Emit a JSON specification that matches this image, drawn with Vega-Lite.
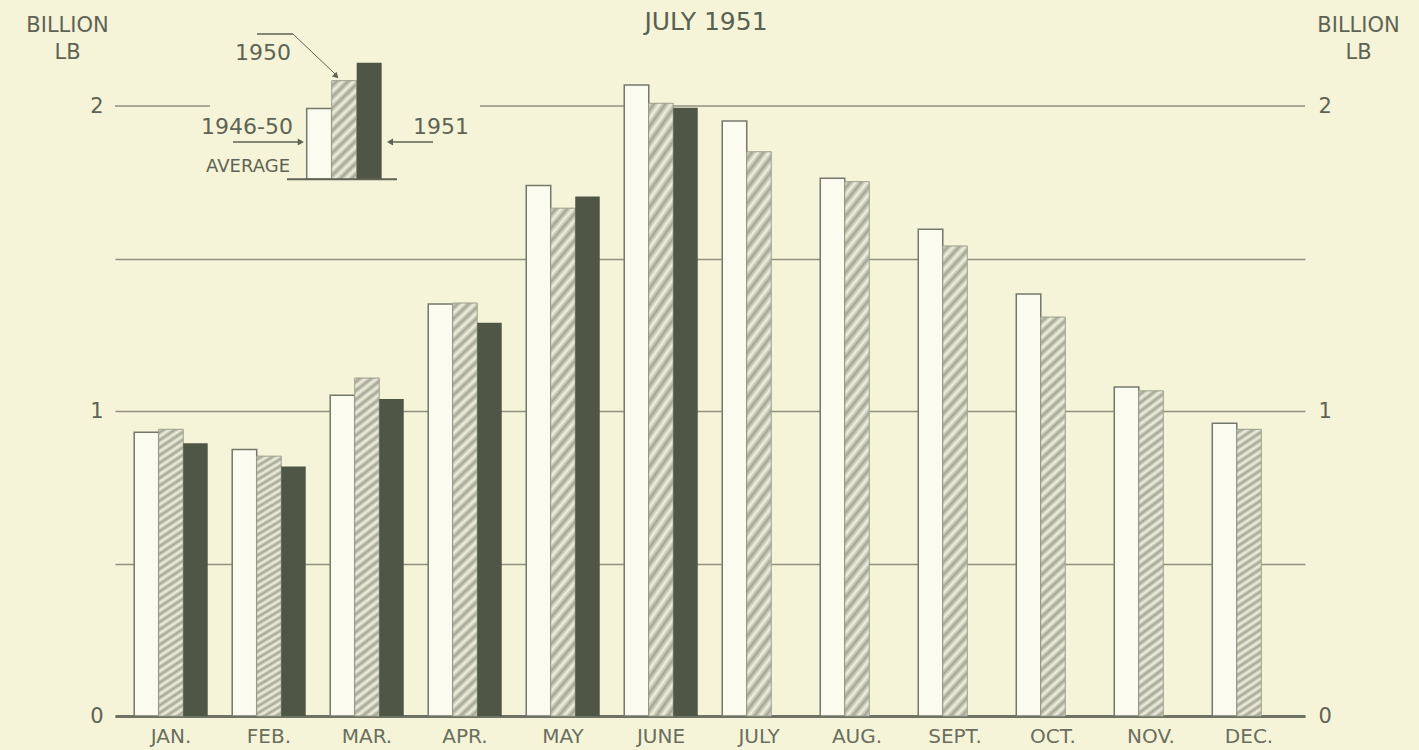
{
  "$schema": "https://vega.github.io/schema/vega-lite/v6.json",
  "width": 1190,
  "height": 671,
  "autosize": {"type": "none"},
  "padding": {"left": 115, "top": 45, "right": 114, "bottom": 34},
  "background": "#f6f4d8",
  "config": {"view": {"stroke": null}, "font": "DejaVu Sans"},
  "datasets": {
    "production": [
      {"month": "JAN.", "series": "1946-50 average", "value": 0.93},
      {"month": "JAN.", "series": "1950", "value": 0.94},
      {"month": "JAN.", "series": "1951", "value": 0.894},
      {"month": "FEB.", "series": "1946-50 average", "value": 0.874},
      {"month": "FEB.", "series": "1950", "value": 0.852},
      {"month": "FEB.", "series": "1951", "value": 0.818},
      {"month": "MAR.", "series": "1946-50 average", "value": 1.052},
      {"month": "MAR.", "series": "1950", "value": 1.108},
      {"month": "MAR.", "series": "1951", "value": 1.039},
      {"month": "APR.", "series": "1946-50 average", "value": 1.351},
      {"month": "APR.", "series": "1950", "value": 1.354},
      {"month": "APR.", "series": "1951", "value": 1.289},
      {"month": "MAY", "series": "1946-50 average", "value": 1.739},
      {"month": "MAY", "series": "1950", "value": 1.665},
      {"month": "MAY", "series": "1951", "value": 1.703},
      {"month": "JUNE", "series": "1946-50 average", "value": 2.069},
      {"month": "JUNE", "series": "1950", "value": 2.009},
      {"month": "JUNE", "series": "1951", "value": 1.994},
      {"month": "JULY", "series": "1946-50 average", "value": 1.951},
      {"month": "JULY", "series": "1950", "value": 1.85},
      {"month": "AUG.", "series": "1946-50 average", "value": 1.763},
      {"month": "AUG.", "series": "1950", "value": 1.752},
      {"month": "SEPT.", "series": "1946-50 average", "value": 1.596},
      {"month": "SEPT.", "series": "1950", "value": 1.541},
      {"month": "OCT.", "series": "1946-50 average", "value": 1.384},
      {"month": "OCT.", "series": "1950", "value": 1.308},
      {"month": "NOV.", "series": "1946-50 average", "value": 1.079},
      {"month": "NOV.", "series": "1950", "value": 1.066},
      {"month": "DEC.", "series": "1946-50 average", "value": 0.96},
      {"month": "DEC.", "series": "1950", "value": 0.94}
    ],
    "legend": [
      {"series": "1946-50 average", "lo": 1.76, "hi": 1.992},
      {"series": "1950", "lo": 1.76, "hi": 2.083},
      {"series": "1951", "lo": 1.76, "hi": 2.142}
    ]
  },
  "resolve": {"scale": {"x": "independent"}, "axis": {"y": "independent"}},
  "layer": [
    {
      "data": {"values": [{"v": 2}]},
      "mark": {"type": "rule", "color": "#8e9180", "strokeWidth": 1.5},
      "encoding": {
        "x": {"datum": -0.196, "type": "quantitative", "scale": {"domain": [-0.196, 11.946], "nice": false, "zero": false}, "axis": null},
        "x2": {"datum": 0.773},
        "y": {"field": "v", "type": "quantitative", "scale": {"domain": [0, 2.2], "nice": false}, "axis": null}
      }
    },
    {
      "data": {"values": [{"v": 2}]},
      "mark": {"type": "rule", "color": "#8e9180", "strokeWidth": 1.5},
      "encoding": {
        "x": {"datum": 3.528, "type": "quantitative", "scale": {"domain": [-0.196, 11.946], "nice": false, "zero": false}, "axis": null},
        "x2": {"datum": 11.946},
        "y": {"field": "v", "type": "quantitative", "scale": {"domain": [0, 2.2], "nice": false}, "axis": null}
      }
    },
    {
      "data": {"name": "production"},
      "transform": [{"filter": "datum.series == '1946-50 average'"}],
      "mark": {"type": "bar", "fill": "#fbfbf0", "stroke": "#74786a", "strokeWidth": 1.5},
      "encoding": {
        "x": {"field": "month", "type": "nominal", "sort": null, "title": null,
          "scale": {"domain": ["JAN.", "FEB.", "MAR.", "APR.", "MAY", "JUNE", "JULY", "AUG.", "SEPT.", "OCT.", "NOV.", "DEC."], "paddingInner": 0.25, "paddingOuter": 0.196},
          "axis": {"domain": true, "domainColor": "#6e7262", "domainWidth": 3, "ticks": false, "labelFontSize": 20, "labelColor": "#6a6e5e", "labelPadding": 10, "labelAngle": 0, "title": null, "grid": false}},
        "xOffset": {"field": "series", "type": "nominal", "scale": {"domain": ["1946-50 average", "1950", "1951"], "paddingInner": 0, "paddingOuter": 0}},
        "y": {"field": "value", "type": "quantitative", "scale": {"domain": [0, 2.2], "nice": false},
          "axis": {"orient": "left", "values": [0, 0.5, 1, 1.5, 2], "labelExpr": "datum.value % 1 == 0 ? format(datum.value, 'd') : ''", "grid": true, "gridColor": "#8e9180", "gridWidth": 1.5, "gridOpacity": {"condition": {"test": "datum.value == 2", "value": 0}, "value": 1}, "domain": false, "ticks": false, "labelPadding": 12, "labelFontSize": 21, "labelColor": "#5e6353", "title": ["BILLION", "LB"], "titleAngle": 0, "titleX": -48, "titleY": -31, "titleAlign": "center", "titleBaseline": "top", "titleFontSize": 21, "titleFontWeight": "normal", "titleColor": "#5e6353", "titleLineHeight": 27}}
      }
    },
    {
      "data": {"name": "production"},
      "transform": [{"filter": "datum.series == '1950'"}],
      "mark": {"type": "bar", "stroke": "#9c9e8d", "strokeWidth": 1,
        "fill": {"gradient": "linear", "x1": 0, "y1": 0, "x2": 0.06, "y2": 1.054, "stops": [
          {"offset": 0, "color": "#f2f1df"}, {"offset": 0.0125, "color": "#a3a594"}, {"offset": 0.025, "color": "#f2f1df"}, {"offset": 0.0375, "color": "#a3a594"},
          {"offset": 0.05, "color": "#f2f1df"}, {"offset": 0.0625, "color": "#a3a594"}, {"offset": 0.075, "color": "#f2f1df"}, {"offset": 0.0875, "color": "#a3a594"},
          {"offset": 0.1, "color": "#f2f1df"}, {"offset": 0.1125, "color": "#a3a594"}, {"offset": 0.125, "color": "#f2f1df"}, {"offset": 0.1375, "color": "#a3a594"},
          {"offset": 0.15, "color": "#f2f1df"}, {"offset": 0.1625, "color": "#a3a594"}, {"offset": 0.175, "color": "#f2f1df"}, {"offset": 0.1875, "color": "#a3a594"},
          {"offset": 0.2, "color": "#f2f1df"}, {"offset": 0.2125, "color": "#a3a594"}, {"offset": 0.225, "color": "#f2f1df"}, {"offset": 0.2375, "color": "#a3a594"},
          {"offset": 0.25, "color": "#f2f1df"}, {"offset": 0.2625, "color": "#a3a594"}, {"offset": 0.275, "color": "#f2f1df"}, {"offset": 0.2875, "color": "#a3a594"},
          {"offset": 0.3, "color": "#f2f1df"}, {"offset": 0.3125, "color": "#a3a594"}, {"offset": 0.325, "color": "#f2f1df"}, {"offset": 0.3375, "color": "#a3a594"},
          {"offset": 0.35, "color": "#f2f1df"}, {"offset": 0.3625, "color": "#a3a594"}, {"offset": 0.375, "color": "#f2f1df"}, {"offset": 0.3875, "color": "#a3a594"},
          {"offset": 0.4, "color": "#f2f1df"}, {"offset": 0.4125, "color": "#a3a594"}, {"offset": 0.425, "color": "#f2f1df"}, {"offset": 0.4375, "color": "#a3a594"},
          {"offset": 0.45, "color": "#f2f1df"}, {"offset": 0.4625, "color": "#a3a594"}, {"offset": 0.475, "color": "#f2f1df"}, {"offset": 0.4875, "color": "#a3a594"},
          {"offset": 0.5, "color": "#f2f1df"}, {"offset": 0.5125, "color": "#a3a594"}, {"offset": 0.525, "color": "#f2f1df"}, {"offset": 0.5375, "color": "#a3a594"},
          {"offset": 0.55, "color": "#f2f1df"}, {"offset": 0.5625, "color": "#a3a594"}, {"offset": 0.575, "color": "#f2f1df"}, {"offset": 0.5875, "color": "#a3a594"},
          {"offset": 0.6, "color": "#f2f1df"}, {"offset": 0.6125, "color": "#a3a594"}, {"offset": 0.625, "color": "#f2f1df"}, {"offset": 0.6375, "color": "#a3a594"},
          {"offset": 0.65, "color": "#f2f1df"}, {"offset": 0.6625, "color": "#a3a594"}, {"offset": 0.675, "color": "#f2f1df"}, {"offset": 0.6875, "color": "#a3a594"},
          {"offset": 0.7, "color": "#f2f1df"}, {"offset": 0.7125, "color": "#a3a594"}, {"offset": 0.725, "color": "#f2f1df"}, {"offset": 0.7375, "color": "#a3a594"},
          {"offset": 0.75, "color": "#f2f1df"}, {"offset": 0.7625, "color": "#a3a594"}, {"offset": 0.775, "color": "#f2f1df"}, {"offset": 0.7875, "color": "#a3a594"},
          {"offset": 0.8, "color": "#f2f1df"}, {"offset": 0.8125, "color": "#a3a594"}, {"offset": 0.825, "color": "#f2f1df"}, {"offset": 0.8375, "color": "#a3a594"},
          {"offset": 0.85, "color": "#f2f1df"}, {"offset": 0.8625, "color": "#a3a594"}, {"offset": 0.875, "color": "#f2f1df"}, {"offset": 0.8875, "color": "#a3a594"},
          {"offset": 0.9, "color": "#f2f1df"}, {"offset": 0.9125, "color": "#a3a594"}, {"offset": 0.925, "color": "#f2f1df"}, {"offset": 0.9375, "color": "#a3a594"},
          {"offset": 0.95, "color": "#f2f1df"}, {"offset": 0.9625, "color": "#a3a594"}, {"offset": 0.975, "color": "#f2f1df"}, {"offset": 0.9875, "color": "#a3a594"},
          {"offset": 1, "color": "#f2f1df"}
        ]}},
      "encoding": {
        "x": {"field": "month", "type": "nominal", "sort": null, "title": null,
          "scale": {"domain": ["JAN.", "FEB.", "MAR.", "APR.", "MAY", "JUNE", "JULY", "AUG.", "SEPT.", "OCT.", "NOV.", "DEC."], "paddingInner": 0.25, "paddingOuter": 0.196}, "axis": null},
        "xOffset": {"field": "series", "type": "nominal", "scale": {"domain": ["1946-50 average", "1950", "1951"], "paddingInner": 0, "paddingOuter": 0}},
        "y": {"field": "value", "type": "quantitative", "scale": {"domain": [0, 2.2], "nice": false}, "axis": null}
      }
    },
    {
      "data": {"name": "production"},
      "transform": [{"filter": "datum.series == '1951'"}],
      "mark": {"type": "bar", "fill": "#4f5646"},
      "encoding": {
        "x": {"field": "month", "type": "nominal", "sort": null, "title": null,
          "scale": {"domain": ["JAN.", "FEB.", "MAR.", "APR.", "MAY", "JUNE", "JULY", "AUG.", "SEPT.", "OCT.", "NOV.", "DEC."], "paddingInner": 0.25, "paddingOuter": 0.196}, "axis": null},
        "xOffset": {"field": "series", "type": "nominal", "scale": {"domain": ["1946-50 average", "1950", "1951"], "paddingInner": 0, "paddingOuter": 0}},
        "y": {"field": "value", "type": "quantitative", "scale": {"domain": [0, 2.2], "nice": false},
          "axis": {"orient": "right", "values": [0, 1, 2], "format": "d", "grid": false, "domain": false, "ticks": false, "labelPadding": 13, "labelFontSize": 21, "labelColor": "#5e6353", "title": ["BILLION", "LB"], "titleAngle": 0, "titleX": 53, "titleY": -31, "titleAlign": "center", "titleBaseline": "top", "titleFontSize": 21, "titleFontWeight": "normal", "titleColor": "#5e6353", "titleLineHeight": 27}}
      }
    },
    {
      "data": {"values": [{"t": "JULY 1951"}]},
      "mark": {"type": "text", "fontSize": 25, "color": "#586050", "align": "center", "baseline": "middle"},
      "encoding": {
        "text": {"field": "t"},
        "x": {"datum": 5.834, "type": "quantitative", "scale": {"domain": [-0.196, 11.946], "nice": false, "zero": false}, "axis": null},
        "y": {"datum": 2.274, "type": "quantitative", "scale": {"domain": [0, 2.2], "nice": false}, "axis": null}
      }
    },
    {
      "data": {"name": "legend"},
      "transform": [{"filter": "datum.series == '1946-50 average'"}],
      "mark": {"type": "rect", "fill": "#fbfbf0", "stroke": "#74786a", "strokeWidth": 1.5},
      "encoding": {
        "x": {"datum": 1.76, "type": "quantitative", "scale": {"domain": [-0.196, 11.946], "nice": false, "zero": false}, "axis": null},
        "x2": {"datum": 2.015},
        "y": {"field": "lo", "type": "quantitative", "scale": {"domain": [0, 2.2], "nice": false}, "axis": null},
        "y2": {"field": "hi"}
      }
    },
    {
      "data": {"name": "legend"},
      "transform": [{"filter": "datum.series == '1950'"}],
      "mark": {"type": "rect", "stroke": "#9c9e8d", "strokeWidth": 1,
        "fill": {"gradient": "linear", "x1": 0, "y1": 0, "x2": 0.293, "y2": 1.176, "stops": [
          {"offset": 0, "color": "#f2f1df"}, {"offset": 0.0455, "color": "#a3a594"}, {"offset": 0.0909, "color": "#f2f1df"}, {"offset": 0.1364, "color": "#a3a594"},
          {"offset": 0.1818, "color": "#f2f1df"}, {"offset": 0.2273, "color": "#a3a594"}, {"offset": 0.2727, "color": "#f2f1df"}, {"offset": 0.3182, "color": "#a3a594"},
          {"offset": 0.3636, "color": "#f2f1df"}, {"offset": 0.4091, "color": "#a3a594"}, {"offset": 0.4545, "color": "#f2f1df"}, {"offset": 0.5, "color": "#a3a594"},
          {"offset": 0.5455, "color": "#f2f1df"}, {"offset": 0.5909, "color": "#a3a594"}, {"offset": 0.6364, "color": "#f2f1df"}, {"offset": 0.6818, "color": "#a3a594"},
          {"offset": 0.7273, "color": "#f2f1df"}, {"offset": 0.7727, "color": "#a3a594"}, {"offset": 0.8182, "color": "#f2f1df"}, {"offset": 0.8636, "color": "#a3a594"},
          {"offset": 0.9091, "color": "#f2f1df"}, {"offset": 0.9545, "color": "#a3a594"}, {"offset": 1, "color": "#f2f1df"}
        ]}},
      "encoding": {
        "x": {"datum": 2.015, "type": "quantitative", "scale": {"domain": [-0.196, 11.946], "nice": false, "zero": false}, "axis": null},
        "x2": {"datum": 2.27},
        "y": {"field": "lo", "type": "quantitative", "scale": {"domain": [0, 2.2], "nice": false}, "axis": null},
        "y2": {"field": "hi"}
      }
    },
    {
      "data": {"name": "legend"},
      "transform": [{"filter": "datum.series == '1951'"}],
      "mark": {"type": "rect", "fill": "#4f5646"},
      "encoding": {
        "x": {"datum": 2.27, "type": "quantitative", "scale": {"domain": [-0.196, 11.946], "nice": false, "zero": false}, "axis": null},
        "x2": {"datum": 2.525},
        "y": {"field": "lo", "type": "quantitative", "scale": {"domain": [0, 2.2], "nice": false}, "axis": null},
        "y2": {"field": "hi"}
      }
    },
    {
      "data": {"values": [{"v": 1.76}]},
      "mark": {"type": "rule", "color": "#5e6353", "strokeWidth": 2},
      "encoding": {
        "x": {"datum": 1.559, "type": "quantitative", "scale": {"domain": [-0.196, 11.946], "nice": false, "zero": false}, "axis": null},
        "x2": {"datum": 2.681},
        "y": {"field": "v", "type": "quantitative", "scale": {"domain": [0, 2.2], "nice": false}, "axis": null}
      }
    },
    {
      "data": {"values": [{"t": "1950"}]},
      "mark": {"type": "text", "fontSize": 22, "color": "#5e6353", "align": "center", "baseline": "middle"},
      "encoding": {
        "text": {"field": "t"},
        "x": {"datum": 1.314, "type": "quantitative", "scale": {"domain": [-0.196, 11.946], "nice": false, "zero": false}, "axis": null},
        "y": {"datum": 2.174, "type": "quantitative", "scale": {"domain": [0, 2.2], "nice": false}, "axis": null}
      }
    },
    {
      "data": {"values": [{"t": "1946-50"}]},
      "mark": {"type": "text", "fontSize": 22, "color": "#5e6353", "align": "right", "baseline": "middle"},
      "encoding": {
        "text": {"field": "t"},
        "x": {"datum": 1.62, "type": "quantitative", "scale": {"domain": [-0.196, 11.946], "nice": false, "zero": false}, "axis": null},
        "y": {"datum": 1.931, "type": "quantitative", "scale": {"domain": [0, 2.2], "nice": false}, "axis": null}
      }
    },
    {
      "data": {"values": [{"t": "AVERAGE"}]},
      "mark": {"type": "text", "fontSize": 18, "color": "#5e6353", "align": "right", "baseline": "middle"},
      "encoding": {
        "text": {"field": "t"},
        "x": {"datum": 1.59, "type": "quantitative", "scale": {"domain": [-0.196, 11.946], "nice": false, "zero": false}, "axis": null},
        "y": {"datum": 1.8, "type": "quantitative", "scale": {"domain": [0, 2.2], "nice": false}, "axis": null}
      }
    },
    {
      "data": {"values": [{"t": "1951"}]},
      "mark": {"type": "text", "fontSize": 22, "color": "#5e6353", "align": "left", "baseline": "middle"},
      "encoding": {
        "text": {"field": "t"},
        "x": {"datum": 2.845, "type": "quantitative", "scale": {"domain": [-0.196, 11.946], "nice": false, "zero": false}, "axis": null},
        "y": {"datum": 1.931, "type": "quantitative", "scale": {"domain": [0, 2.2], "nice": false}, "axis": null}
      }
    },
    {
      "data": {"values": [{"v": 1.882}]},
      "mark": {"type": "rule", "color": "#5e6353", "strokeWidth": 1.5},
      "encoding": {
        "x": {"datum": 1.008, "type": "quantitative", "scale": {"domain": [-0.196, 11.946], "nice": false, "zero": false}, "axis": null},
        "x2": {"datum": 1.7},
        "y": {"field": "v", "type": "quantitative", "scale": {"domain": [0, 2.2], "nice": false}, "axis": null}
      }
    },
    {
      "data": {"values": [{"v": 1.882}]},
      "mark": {"type": "point", "shape": "triangle-right", "filled": true, "size": 50, "color": "#5e6353", "opacity": 1},
      "encoding": {
        "x": {"datum": 1.7, "type": "quantitative", "scale": {"domain": [-0.196, 11.946], "nice": false, "zero": false}, "axis": null},
        "y": {"field": "v", "type": "quantitative", "scale": {"domain": [0, 2.2], "nice": false}, "axis": null}
      }
    },
    {
      "data": {"values": [{"v": 1.882}]},
      "mark": {"type": "rule", "color": "#5e6353", "strokeWidth": 1.5},
      "encoding": {
        "x": {"datum": 2.61, "type": "quantitative", "scale": {"domain": [-0.196, 11.946], "nice": false, "zero": false}, "axis": null},
        "x2": {"datum": 3.049},
        "y": {"field": "v", "type": "quantitative", "scale": {"domain": [0, 2.2], "nice": false}, "axis": null}
      }
    },
    {
      "data": {"values": [{"v": 1.882}]},
      "mark": {"type": "point", "shape": "triangle-left", "filled": true, "size": 50, "color": "#5e6353", "opacity": 1},
      "encoding": {
        "x": {"datum": 2.61, "type": "quantitative", "scale": {"domain": [-0.196, 11.946], "nice": false, "zero": false}, "axis": null},
        "y": {"field": "v", "type": "quantitative", "scale": {"domain": [0, 2.2], "nice": false}, "axis": null}
      }
    },
    {
      "data": {"values": [{"v": 2.236}]},
      "mark": {"type": "rule", "color": "#5e6353", "strokeWidth": 1.5},
      "encoding": {
        "x": {"datum": 1.253, "type": "quantitative", "scale": {"domain": [-0.196, 11.946], "nice": false, "zero": false}, "axis": null},
        "x2": {"datum": 1.62},
        "y": {"field": "v", "type": "quantitative", "scale": {"domain": [0, 2.2], "nice": false}, "axis": null}
      }
    },
    {
      "data": {"values": [{"v": 2.236}]},
      "mark": {"type": "rule", "color": "#5e6353", "strokeWidth": 1},
      "encoding": {
        "x": {"datum": 1.62, "type": "quantitative", "scale": {"domain": [-0.196, 11.946], "nice": false, "zero": false}, "axis": null},
        "x2": {"datum": 2.05},
        "y": {"field": "v", "type": "quantitative", "scale": {"domain": [0, 2.2], "nice": false}, "axis": null},
        "y2": {"datum": 2.105}
      }
    },
    {
      "data": {"values": [{"v": 2.1}]},
      "mark": {"type": "point", "shape": "triangle", "angle": 135, "filled": true, "size": 45, "color": "#5e6353", "opacity": 1},
      "encoding": {
        "x": {"datum": 2.055, "type": "quantitative", "scale": {"domain": [-0.196, 11.946], "nice": false, "zero": false}, "axis": null},
        "y": {"field": "v", "type": "quantitative", "scale": {"domain": [0, 2.2], "nice": false}, "axis": null}
      }
    }
  ]
}
